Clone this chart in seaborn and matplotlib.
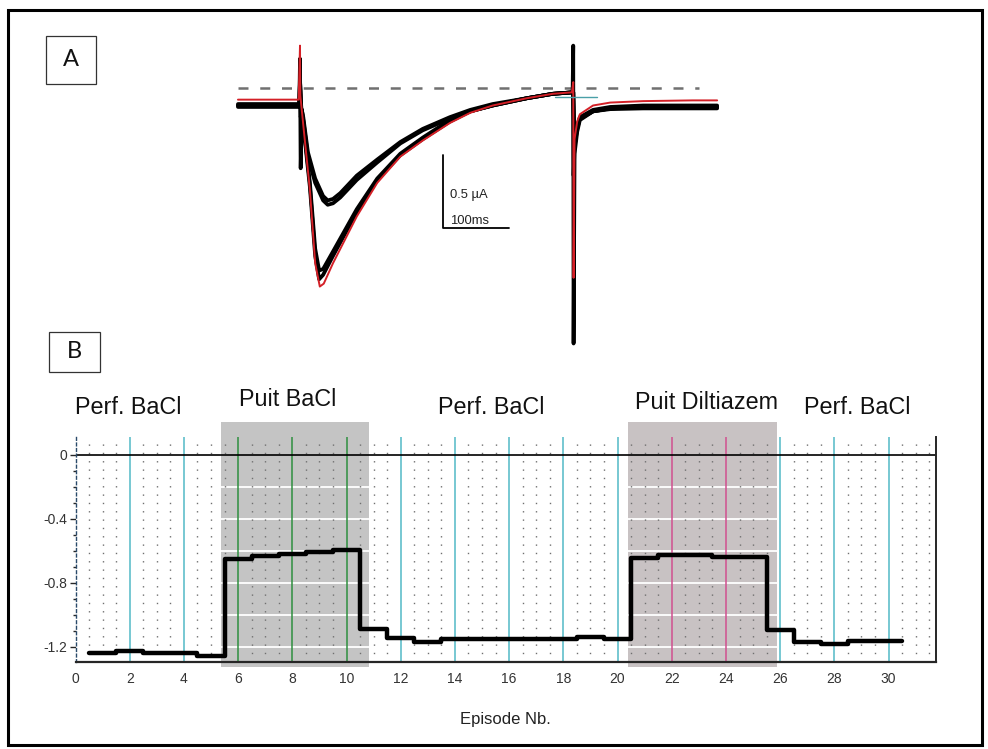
import numpy as np
import pandas as pd
import seaborn as sns
import matplotlib.pyplot as plt
from matplotlib import font_manager
from matplotlib.patches import Rectangle

# ---------------- data ----------------
# Panel A: current traces (time in ms, current in uA, 0 = dashed line)
red_t = [-94, -2, 0, 0.5, 2, 6, 15, 23, 30, 36, 50, 86, 117, 152, 186, 227, 258,
         292, 344, 383, 412, 414, 414.5, 416, 420, 424, 444, 470, 520, 595, 632]
red_i = [-0.08, -0.08, 0.29, -0.05, -0.12, -0.30, -0.70, -1.20, -1.36, -1.34, -1.20,
         -0.88, -0.65, -0.47, -0.36, -0.24, -0.17, -0.12, -0.07, -0.04, -0.03, 0.04,
         -1.30, -0.35, -0.23, -0.18, -0.12, -0.10, -0.09, -0.085, -0.085]

big_t = [-94, -1, 0, 1, 3, 6, 15, 23, 29, 35, 50, 86, 117, 152, 186, 227, 258,
         292, 344, 383, 413, 414, 414.5, 416, 420, 424, 444, 470, 520, 595, 632]
big1_i = [-0.12, -0.12, 0.20, -0.55, -0.15, -0.30, -0.68, -1.15, -1.31, -1.28, -1.15,
          -0.85, -0.63, -0.46, -0.35, -0.23, -0.16, -0.12, -0.07, -0.04, -0.03, 0.29,
          -1.75, -0.45, -0.30, -0.22, -0.16, -0.14, -0.13, -0.13, -0.13]
big2_i = [-0.13, -0.13, 0.10, -0.20, -0.15, -0.28, -0.65, -1.10, -1.25, -1.24, -1.12,
          -0.83, -0.62, -0.45, -0.34, -0.22, -0.16, -0.12, -0.07, -0.04, -0.03, -0.03,
          -0.60, -0.40, -0.28, -0.21, -0.16, -0.145, -0.14, -0.14, -0.14]

small_t = [-94, -1, 0, 2, 5, 12, 23, 35, 42, 50, 61, 86, 117, 152, 186, 227, 258,
           292, 344, 383, 413, 414, 416, 420, 424, 444, 470, 520, 595, 632]
small1_i = [-0.12, -0.12, 0.05, -0.15, -0.22, -0.47, -0.65, -0.77, -0.80, -0.79, -0.75,
            -0.63, -0.51, -0.38, -0.29, -0.21, -0.16, -0.12, -0.07, -0.04, -0.03, -0.03,
            -0.40, -0.27, -0.21, -0.16, -0.14, -0.13, -0.13, -0.13]
small2_i = [-0.11, -0.11, 0.05, -0.14, -0.20, -0.44, -0.62, -0.74, -0.77, -0.76, -0.72,
            -0.60, -0.49, -0.37, -0.28, -0.20, -0.15, -0.11, -0.07, -0.04, -0.03, -0.03,
            -0.38, -0.26, -0.20, -0.15, -0.13, -0.12, -0.12, -0.12]

zero_t = [-94, 605]
cursor_t = [386, 450]
cursor_i = [-0.06, -0.06]

scale_ms = 100
scale_ua = 0.5

# Panel B: peak current per episode
episodes = list(range(1, 31))
peak = [-1.24, -1.225, -1.24, -1.24, -1.254, -0.652, -0.631, -0.621, -0.606, -0.596,
        -1.088, -1.142, -1.167, -1.152, -1.152, -1.152, -1.152, -1.152, -1.135, -1.148,
        -0.642, -0.625, -0.625, -0.64, -0.64, -1.096, -1.167, -1.183, -1.165, -1.165]

phase_labels = ["Perf. BaCl", "Puit BaCl", "Perf. BaCl", "Puit Diltiazem", "Perf. BaCl"]
washout_spans = [(5.37, 10.83), (20.39, 25.88)]
x_ticks = list(range(0, 31, 2))
y_ticks = [0, -0.4, -0.8, -1.2]


def has_font(name):
    try:
        font_manager.findfont(name, fallback_to_default=False)
        return True
    except Exception:
        return False


sns.set_style("white")
narrow = "Liberation Sans Narrow" if has_font("Liberation Sans Narrow") else "Liberation Sans"
plt.rcParams["font.family"] = [narrow, "DejaVu Sans"]
shrink = 1.0 if narrow.endswith("Narrow") else 0.84

W, H = 988, 749
fig = plt.figure(figsize=(W / 100, H / 100), dpi=100)


def fx(px):
    return px / W


def fy(py):
    return 1 - py / H


# outer frame and panel letters
fig.add_artist(Rectangle((fx(8), fy(745)), fx(982) - fx(8), fy(10) - fy(745),
                         transform=fig.transFigure, fill=False, lw=2.2, ec="black"))
for letter, (x0, y0, x1, y1) in [("A", (46, 36, 96, 84)), ("B", (49, 332, 100, 372))]:
    fig.add_artist(Rectangle((fx(x0), fy(y1)), fx(x1) - fx(x0), fy(y0) - fy(y1),
                             transform=fig.transFigure, fill=False, lw=0.9, ec="#333333"))
    fig.text(fx((x0 + x1) / 2), fy((y0 + y1) / 2), letter, ha="center", va="center",
             fontsize=17, family=["Lato", "DejaVu Sans"], color="#111111")

# ---------------- Panel A ----------------
axA = fig.add_axes([fx(230), fy(350), 500 / W, 320 / H])
axA.set_xlim(-106.06, 651.5)
axA.set_ylim(-1.7945, 0.397)
axA.axis("off")

axA.plot(zero_t, [0, 0], color="#707070", lw=1.8, dashes=(4, 4.7), zorder=1)
for t, i in [(big_t, big1_i), (big_t, big2_i), (small_t, small1_i), (small_t, small2_i)]:
    sns.lineplot(x=t, y=i, ax=axA, color="black", lw=2.7, sort=False, estimator=None, zorder=2)
sns.lineplot(x=red_t, y=red_i, ax=axA, color="#d42027", lw=1.4, sort=False, estimator=None, zorder=3)
axA.plot(cursor_t, cursor_i, color="#4aa0a8", lw=1.0, zorder=4)

# scale bar
sb_t, sb_i = 217, -0.96
axA.plot([sb_t, sb_t, sb_t + scale_ms], [sb_i + scale_ua, sb_i, sb_i], color="black", lw=1.3)
axA.text(sb_t + 10, sb_i + 0.23, "0.5 µA", fontsize=10 * shrink / 0.9, va="center", color="#222222")
axA.text(sb_t + 10, sb_i + 0.01, f"{scale_ms}ms", fontsize=10 * shrink / 0.9, va="bottom", color="#222222")
axA.set_xlabel("")
axA.set_ylabel("")

# ---------------- Panel B ----------------
axB = fig.add_axes([fx(75.5), fy(662), (936 - 75.5) / W, (662 - 437) / H])
axB.set_xlim(0, 31.75)
axB.set_ylim(-1.294, 0.1125)

for (a, b), c in zip(washout_spans, ["#c4c4c4", "#c8c2c3"]):
    axB.add_patch(Rectangle((a, -1.325), b - a, 0.206 + 1.325, color=c, lw=0,
                            clip_on=False, zorder=0.5))

for y in np.arange(-1.2, 0.0, 0.2):
    axB.axhline(y, color="white", lw=1.3, zorder=1)

for x in np.arange(0.5, 31.75, 0.5):
    if x % 2 != 0:
        axB.axvline(x, color="#707070", lw=1.0, dashes=(1, 5), zorder=1.5)

for x in x_ticks[1:]:
    if washout_spans[0][0] < x < washout_spans[0][1]:
        c = "#2f8f3f"
    elif washout_spans[1][0] < x < washout_spans[1][1]:
        c = "#d0508f"
    else:
        c = "#52b9c6"
    axB.axvline(x, color=c, lw=1.1, zorder=2)

axB.axhline(0, color="black", lw=1.2, zorder=2.5)

step_x = [e - 0.5 for e in episodes] + [episodes[-1] + 0.5]
step_y = peak + [peak[-1]]
sns.lineplot(x=step_x, y=step_y, ax=axB, color="black", lw=3.2, drawstyle="steps-post",
             sort=False, estimator=None, zorder=3)

header_x = [1.94, 7.84, 15.33, 23.3, 28.84]
header_y = [0.294, 0.344, 0.294, 0.331, 0.294]
for lab, x, y in zip(phase_labels, header_x, header_y):
    axB.text(x, y, lab, ha="center", va="center", fontsize=20 * shrink, color="#111111")

axB.set_xticks(x_ticks)
axB.set_xticklabels([str(v) for v in x_ticks])
axB.set_yticks(y_ticks)
axB.set_yticklabels(["0", "-0.4", "-0.8", "-1.2"])
axB.set_yticks(np.arange(-1.2, 0.05, 0.1), minor=True)
axB.tick_params(axis="x", length=0, pad=7, labelsize=10, labelcolor="#333333")
axB.tick_params(axis="y", which="major", length=4, width=1, pad=2, labelsize=10,
                labelcolor="#333333", left=True)
axB.tick_params(axis="y", which="minor", length=2.5, width=1, left=True)

axB.spines["top"].set_visible(False)
axB.spines["bottom"].set_linewidth(1.6)
axB.spines["right"].set_linewidth(1.4)
axB.spines["left"].set_linewidth(1.0)
axB.spines["left"].set_color("#2a4a6a")
axB.spines["left"].set_linestyle((0, (2, 2)))
axB.set_xlabel("Episode Nb.", fontsize=12, labelpad=19, color="#222222")
axB.set_ylabel("")

fig.savefig("out.png", dpi=100)
